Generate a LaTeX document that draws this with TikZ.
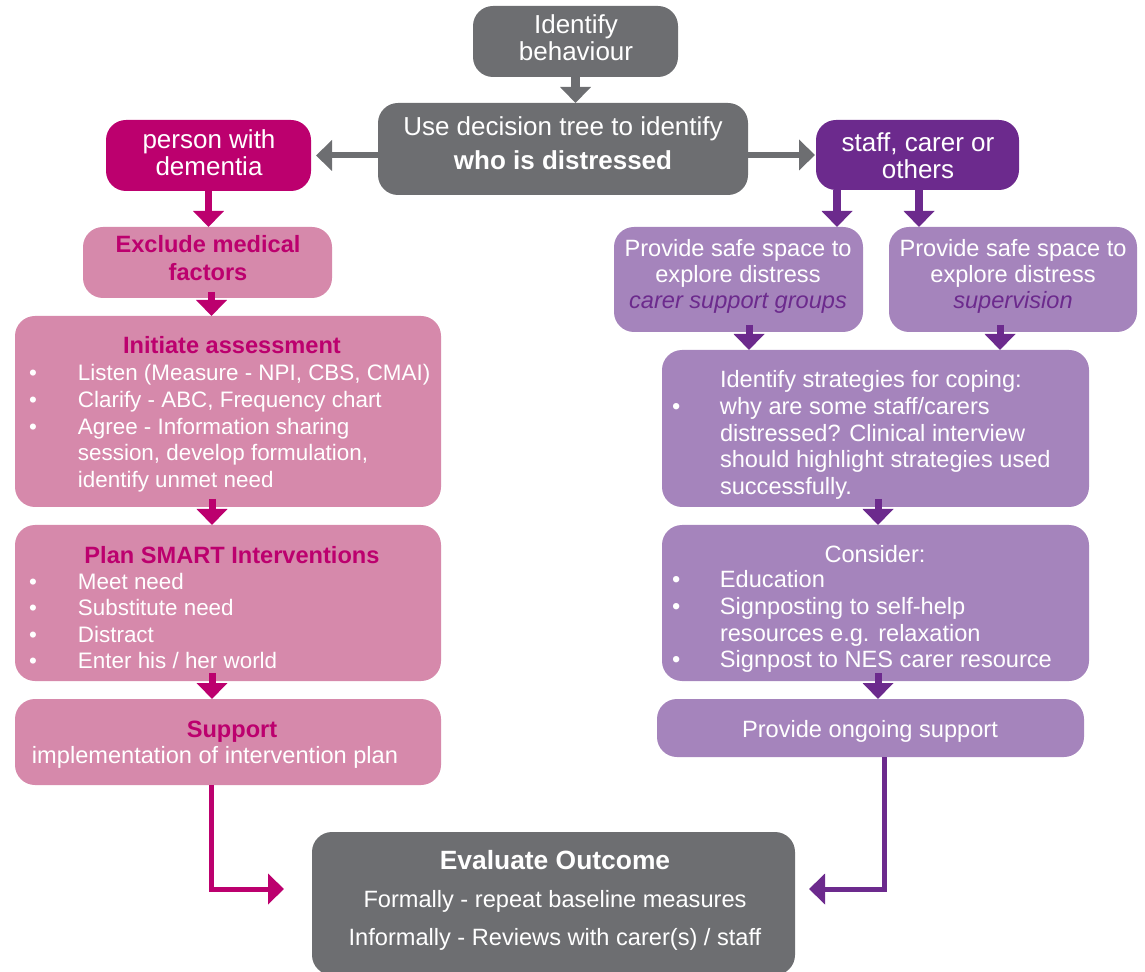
\documentclass[tikz,border=0pt]{standalone}
\usepackage{fontspec}
\setmainfont{Liberation Sans}
\usetikzlibrary{arrows.meta}
\definecolor{cgray}{HTML}{6D6E71}
\definecolor{cmag}{HTML}{BC006E}
\definecolor{cpink}{HTML}{D689AB}
\definecolor{cpurple}{HTML}{6C2A8D}
\definecolor{clpurple}{HTML}{A584BC}
\newcommand\bx[6]{\node[box,fill=#2,minimum width={(#5-#3)*0.5pt},minimum height={(#6-#4)*0.5pt}] (#1) at (#3,#4) {};}
\newcommand\ctr[1]{\begin{tabular}[t]{@{}c@{}}#1\end{tabular}}
\newcommand\lst[2]{\begin{tabular}[t]{@{}p{#1}@{}l@{}}#2\end{tabular}}
\begin{document}
\begin{tikzpicture}[x=0.5pt,y=-0.5pt,
  box/.style={rounded corners=10pt,inner sep=0pt,outer sep=0pt,anchor=north west,draw=none},
  txt/.style={inner sep=0pt,outer sep=0pt,anchor=base,text=white},
  big/.style={font=\fontsize{13}{#1}\selectfont},
  med/.style={font=\fontsize{11.8}{#1}\selectfont},
  sml/.style={font=\fontsize{11.2}{#1}\selectfont},
  hdr/.style={font=\fontsize{11.8}{13.3}\selectfont\bfseries,text=cmag},
  tip/.style={-{Triangle[width=15pt,length=8pt]}},
  garr/.style={tip,draw=cgray,line width=3pt},
  marr/.style={tip,draw=cmag,line width=3.5pt},
  parr/.style={tip,draw=cpurple,line width=3.5pt}]
\useasboundingbox (0,0) rectangle (1145,972);
% boxes
\bx{ib}{cgray}{473}{6}{678}{77}
\bx{dt}{cgray}{378}{103}{748}{195}
\bx{pwd}{cmag}{106}{120}{311}{191}
\bx{st}{cpurple}{816}{120}{1019}{190}
\bx{ex}{cpink}{83}{227}{332}{298}
\bx{s1}{clpurple}{614}{227}{863}{332}
\bx{s2}{clpurple}{889}{227}{1137}{332}
\bx{ia}{cpink}{15}{316}{441}{507}
\bx{str}{clpurple}{662}{350}{1089}{507}
\bx{ps}{cpink}{15}{525}{441}{681}
\bx{con}{clpurple}{662}{525}{1089}{681}
\bx{sup}{cpink}{15}{699}{441}{785}
\bx{ong}{clpurple}{657}{699}{1084}{757}
\bx{ev}{cgray}{312}{832}{795}{975}
% arrows
\draw[garr,line width=4.5pt] (ib.south) -- (ib.south |- dt.north);
\draw[garr] (dt.west |- pwd.east) -- ([xshift=2.5pt]pwd.east);
\draw[garr] (dt.east |- st.west) -- ([xshift=-0.5pt]st.west);
\draw[marr] (pwd.south) -- (pwd.south |- ex.north);
\draw[marr] ([xshift=2pt,yshift=3pt]ex.south) -- ([xshift=2pt]ex.south |- ia.north);
\draw[marr] ([xshift=-8pt,yshift=4pt]ia.south) -- ([xshift=-8pt]ia.south |- ps.north);
\draw[marr] ([xshift=-8pt,yshift=4pt]ps.south) -- ([xshift=-8pt]ps.south |- sup.north);
\draw[marr,line width=2.5pt] ([xshift=-8.5pt]sup.south) |- ([xshift=-14pt,yshift=7.25pt]ev.west);
\draw[parr,line width=4pt] ([xshift=-40.25pt]st.south) -- ([xshift=-40.25pt]st.south |- s1.north);
\draw[parr,line width=4pt] ([xshift=0.75pt]st.south) -- ([xshift=0.75pt]st.south |- s2.north);
\draw[parr] ([xshift=5.25pt,yshift=3.5pt]s1.south) -- ([xshift=5.25pt]s1.south |- str.north);
\draw[parr] ([xshift=-6.5pt,yshift=3.5pt]s2.south) -- ([xshift=-6.5pt]s2.south |- str.north);
\draw[parr] ([xshift=1.25pt,yshift=4pt]str.south) -- ([xshift=1.25pt]str.south |- con.north);
\draw[parr] ([xshift=1.25pt,yshift=4pt]con.south) -- ([xshift=1.25pt]con.south |- ong.north);
\draw[parr,line width=2.5pt] ([xshift=6.75pt]ong.south) |- ([xshift=7pt,yshift=7.25pt]ev.east);
% texts
\node[txt,big=13pt] (tib) at (576,34) {\ctr{Identify\\behaviour}};
\node[txt,big=17pt] (tdt) at (563,136) {\ctr{Use decision tree to identify\\\textbf{who is distressed}}};
\node[txt,big=12.5pt] (tpwd) at (209,149) {\ctr{person with\\dementia}};
\node[txt,big=13pt] (tst) at (918,152) {\ctr{staff, carer or\\others}};
\node[txt,hdr,font=\fontsize{11.8}{13.8}\selectfont\bfseries] (tex) at (208,253) {\ctr{Exclude medical\\factors}};
\node[txt,med=13pt] (ts1) at (738,257) {\ctr{Provide safe space to\\explore distress\\\textcolor{cpurple}{\itshape carer support groups}}};
\node[txt,med=13pt] (ts2) at (1013,257) {\ctr{Provide safe space to\\explore distress\\\textcolor{cpurple}{\itshape supervision}}};
\node[txt,hdr] (hia) at (232,354) {Initiate assessment};
\node[txt,sml=13.3pt,anchor=base west] (lia) at (29,381) {\lst{24.5pt}{%
  • & Listen (Measure - NPI, CBS, CMAI)\\
  • & Clarify - ABC, Frequency chart\\
  • & Agree - Information sharing\\
    & session, develop formulation,\\
    & identify unmet need}};
\node[txt,hdr] (hps) at (232,563) {Plan SMART Interventions};
\node[txt,sml=13.3pt,anchor=base west] (lps) at (29,589) {\lst{24.5pt}{%
  • & Meet need\\
  • & Substitute need\\
  • & Distract\\
  • & Enter his / her world}};
\node[txt,hdr] (hsup) at (232,737) {Support};
\node[txt,med=13pt] (tsup) at (215,763) {implementation of intervention plan};
\node[txt,med=13.3pt,anchor=base west] (lstr) at (672,388) {\lst{24pt}{%
    & Identify strategies for coping:\\
  • & why are some staff/carers\\
    & distressed? Clinical interview\\
    & should highlight strategies used\\
    & successfully.}};
\node[txt,med=13pt] (hcon) at (875,562) {Consider:};
\node[txt,med=13.3pt,anchor=base west] (lcon) at (672,588) {\lst{24pt}{%
  • & Education\\
  • & Signposting to self-help\\
    & resources e.g. relaxation\\
  • & Signpost to NES carer resource}};
\node[txt,med=13pt] (tong) at (870,737) {Provide ongoing support};
\node[txt,font=\fontsize{13.2}{15}\selectfont\bfseries] (hev) at (555,869) {Evaluate Outcome};
\node[txt,med=13pt] (tev1) at (555,907) {Formally - repeat baseline measures};
\node[txt,med=13pt] (tev2) at (555,945) {Informally - Reviews with carer(s) / staff};
\end{tikzpicture}
\end{document}
